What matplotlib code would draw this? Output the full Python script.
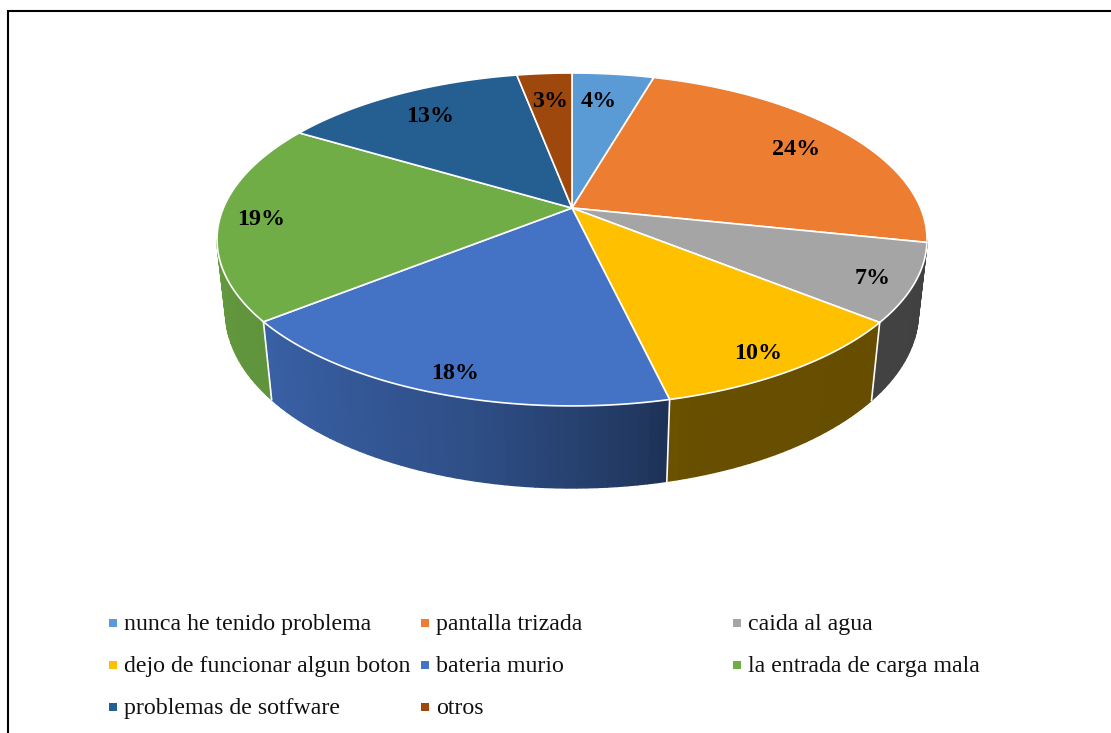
import numpy as np
import matplotlib
matplotlib.use("Agg")
import matplotlib.pyplot as plt

categories = ["nunca he tenido problema", "pantalla trizada", "caida al agua",
              "dejo de funcionar algun boton", "bateria murio", "la entrada de carga mala",
              "problemas de sotfware", "otros"]
# slice sizes, the printed labels are rounded a bit differently
shares = [4.47, 23.8, 7.5, 10.5, 17.9, 19.3, 13.4, 3.0]
pct_labels = ["4%", "24%", "7%", "10%", "18%", "19%", "13%", "3%"]
colors = ["#5B9BD5", "#ED7D31", "#A5A5A5", "#FFC000", "#4472C4", "#70AD47", "#255E91", "#9E480E"]
label_radius = [0.78, 0.80, 0.89, 0.89, 0.90, 0.885, 0.80, 0.78]
label_nudge = [-1.7, 0.7, 1.0, 1.2, -0.8, 0.0, 0.0, 0.0]  # degrees

plt.rcParams["font.family"] = ["Liberation Serif", "DejaVu Serif"]

# perspective of the disc, in pixels of the picture
CX, CY = 572, 208
A, B, K = 348.6, 160.5, 0.189
S, D = 1.024, 73.3


def top_rim(theta, r=1.0):
    u, v = r * np.sin(theta), r * np.cos(theta)
    w = 1 + K * v
    return CX + A * u / w, CY - B * v / w


def bottom_rim(theta):
    u, v = np.sin(theta), np.cos(theta)
    w = S + K * v
    return CX + A * u / w, CY - (B * v - D) / w


def wall_shade(theta):
    # darker towards the lower right, like the office 3d pie
    return np.interp(np.degrees(theta), [90, 165, 172, 194, 232, 270],
                     [0.39, 0.41, 0.50, 0.69, 0.85, 0.90])


fig = plt.figure(figsize=(11.11, 7.33), dpi=100)
ax = fig.add_axes([0, 0, 1, 1])
ax.set_xlim(0, 1111)
ax.set_ylim(733, 0)
ax.axis("off")

edges = np.radians(np.concatenate([[0], np.cumsum(shares)]) / np.sum(shares) * 360)

# side wall, only the part between the widest points of the rim shows
for i, color in enumerate(colors):
    start, end = edges[i], edges[i + 1]
    if end <= np.pi / 2 + 0.19 or start >= 3 * np.pi / 2 - 0.19:
        continue
    start, end = max(start, np.pi / 2 + 0.19), min(end, 3 * np.pi / 2 - 0.19)
    steps = np.linspace(start, end, int((end - start) * 40) + 2)
    rgb = np.array(matplotlib.colors.to_rgb(color))
    for t0, t1 in zip(steps[:-1], steps[1:]):
        xt0, yt0 = top_rim(t0)
        xt1, yt1 = top_rim(t1)
        xb0, yb0 = bottom_rim(t0)
        xb1, yb1 = bottom_rim(t1)
        shade = rgb * wall_shade((t0 + t1) / 2)
        ax.fill([xt0, xt1, xb1, xb0], [yt0, yt1, yb1, yb0], color=shade, lw=1.0, zorder=2)

# the edge on the silhouette (gray/orange) gets no white line
for edge in edges[1:-1]:
    if 0.6 * np.pi < edge < 1.4 * np.pi:
        xt, yt = top_rim(edge)
        xb, yb = bottom_rim(edge)
        ax.plot([xt, xb], [yt, yb], color="white", lw=1.2, zorder=3)

# top of the disc
for i, color in enumerate(colors):
    t = np.linspace(edges[i], edges[i + 1], 120)
    xs, ys = top_rim(t)
    ax.fill(np.r_[CX, xs], np.r_[CY, ys], facecolor=color, edgecolor="white", lw=1.2,
            joinstyle="round", zorder=4)

for i, text in enumerate(pct_labels):
    x, y = top_rim((edges[i] + edges[i + 1]) / 2 + np.radians(label_nudge[i]), label_radius[i])
    ax.text(x, y + 2, text, fontsize=17.3, fontweight="bold", color="black",
            ha="center", va="center", zorder=5)

# legend by hand, office puts it in a fixed 3 column grid
legend_x = [112.5, 424.5, 736.5]
legend_y = [623, 665, 707]
for i, name in enumerate(categories):
    x, y = legend_x[i % 3], legend_y[i // 3]
    ax.scatter([x], [y], marker="s", s=38, color=colors[i], linewidths=0, zorder=5)
    ax.text(x + 11.5, y + 1.5, name, fontsize=17.2, color="#111111", ha="left", va="center")

# frame of the picture, cut off at right and bottom
ax.plot([7.5, 7.5, 1111], [733, 10.5, 10.5], color="black", lw=1.5, solid_joinstyle="miter", zorder=6)

fig.savefig("out.png", dpi=100)
